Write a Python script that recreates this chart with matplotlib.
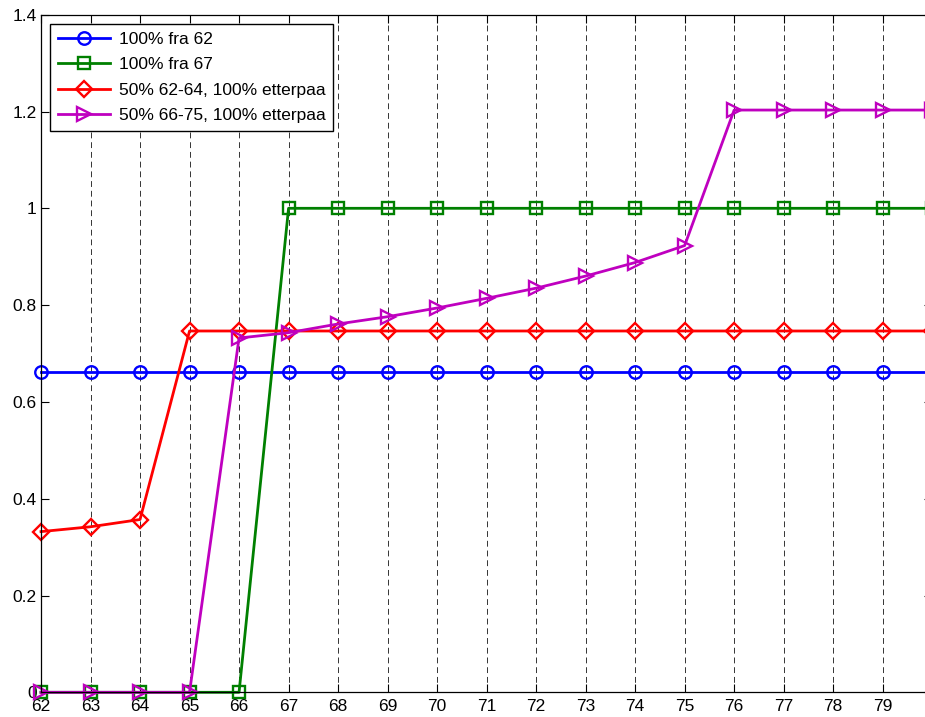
import matplotlib
matplotlib.use("Agg")
import matplotlib.pyplot as plt
import numpy as np

# ages 62..80
years = list(range(62, 81))

full_from_62 = [0.662] * 19
full_from_67 = [0, 0, 0, 0, 0] + [1.0] * 14
half_62_64 = [0.332, 0.342, 0.357] + [0.7465] * 16
half_66_75 = [0, 0, 0, 0,
              0.732, 0.743, 0.761, 0.776, 0.794, 0.814,
              0.835, 0.860, 0.888, 0.923] + [1.203] * 5

labels = ["100% fra 62", "100% fra 67",
          "50% 62-64, 100% etterpaa", "50% 66-75, 100% etterpaa"]

plt.rcParams['font.family'] = ['Liberation Sans', 'DejaVu Sans']
plt.rcParams['font.size'] = 12.5

fig = plt.figure(figsize=(9.25, 7.17), dpi=100)
# axes runs a bit past the right edge, as in the reference
ax = fig.add_axes([41 / 925, 24.7 / 717, 891.2 / 925, 677.6 / 717])

lw = 2.0
mew = 1.7
ax.plot(years, full_from_62, color='#0000ff', marker='o', ms=9, mfc='none',
        mew=mew, lw=lw, label=labels[0], clip_on=False)
ax.plot(years, full_from_67, color='#008000', marker='s', ms=8.5, mfc='none',
        mew=mew, lw=lw, label=labels[1], clip_on=False)
ax.plot(years, half_62_64, color='#ff0000', marker='D', ms=8, mfc='none',
        mew=mew, lw=lw, label=labels[2], clip_on=False)
ax.plot(years, half_66_75, color='#bf00bf', marker='>', ms=10.5, mfc='none',
        mew=mew, lw=lw, label=labels[3], clip_on=False)

ax.set_xlim(62, 80)
ax.set_ylim(0, 1.4)
ax.set_xticks(range(62, 81))
ax.set_xticklabels([str(y) for y in range(62, 80)] + [""])
ax.set_yticks(np.arange(0, 1.41, 0.2))
ax.set_yticklabels(["0", "0.2", "0.4", "0.6", "0.8", "1", "1.2", "1.4"])

ax.xaxis.grid(True, linestyle=(0, (6, 4)), color='#333333', lw=0.7)
ax.set_axisbelow(True)

ax.tick_params(direction='in', length=6, width=0.8, top=True, right=True,
               labelsize=12.5)
ax.tick_params(axis='x', pad=5)
ax.tick_params(axis='y', pad=3)
for s in ax.spines.values():
    s.set_linewidth(0.9)

leg = ax.legend(loc='upper left', bbox_to_anchor=(9 / 891.2, 1 - 9 / 677.6),
                borderaxespad=0, fancybox=False, framealpha=1,
                edgecolor='black', handlelength=3.0, fontsize=12.5,
                labelspacing=0.6, borderpad=0.45, handletextpad=0.5)
leg.get_frame().set_linewidth(1.0)

fig.savefig("out.png", dpi=100)
